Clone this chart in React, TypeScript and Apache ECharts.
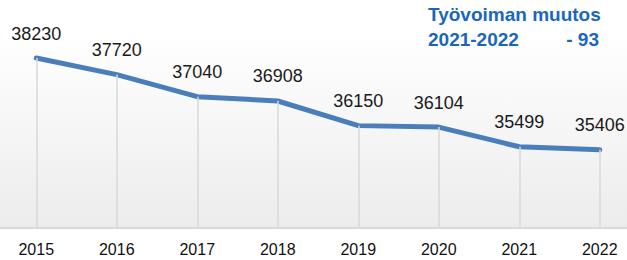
import React, { useEffect, useRef } from "react";
import * as echarts from "echarts";

const years = ["2015", "2016", "2017", "2018", "2019", "2020", "2021", "2022"];
const workforce = [38230, 37720, 37040, 36908, 36150, 36104, 35499, 35406];
const titleLine1 = "Työvoiman muutos";
const titleLine2Left = "2021-2022";
const titleLine2Right = "- 93";
const yMin = 33000;
const yMax = 39000;

export default function App() {
  const ref = useRef<HTMLDivElement>(null);
  useEffect(() => {
    if (!ref.current) return;
    const chart = echarts.init(ref.current, null, { renderer: "svg" });
    const font = "Liberation Sans, Arial, sans-serif";
    const blue = "#1b66bd";
    chart.setOption({
      animation: false,
      backgroundColor: "#ffffff",
      grid: {
        left: 0,
        right: 0,
        top: 33,
        bottom: 32,
        show: true,
        borderWidth: 0,
        backgroundColor: new echarts.graphic.LinearGradient(0, 0, 0, 1, [
          { offset: 0, color: "#ffffff" },
          { offset: 1, color: "#ececec" },
        ]),
      },
      xAxis: {
        type: "category",
        data: years,
        boundaryGap: true,
        axisLine: { show: true, lineStyle: { color: "#d9d9d9", width: 2 } },
        axisTick: { show: false },
        axisLabel: { color: "#111111", fontSize: 16, fontFamily: font, margin: 13 },
        splitLine: { show: false },
      },
      yAxis: {
        type: "value",
        min: yMin,
        max: yMax,
        show: false,
        splitLine: { show: false },
      },
      graphic: [
        {
          type: "text",
          left: 432,
          top: 5,
          style: { text: titleLine1, fill: blue, font: `bold 19px ${font}` },
        },
        {
          type: "text",
          left: 432,
          top: 30,
          style: { text: titleLine2Left, fill: blue, font: `bold 19px ${font}` },
        },
        {
          type: "text",
          right: 41,
          top: 30,
          style: { text: titleLine2Right, fill: blue, font: `bold 19px ${font}` },
        },
      ],
      series: [
        {
          type: "line",
          data: workforce,
          symbol: "none",
          lineStyle: { opacity: 0 },
          z: 1,
          silent: true,
          markLine: {
            silent: true,
            symbol: "none",
            label: { show: false },
            lineStyle: { color: "#d9d9d9", width: 1.5, type: "solid" },
            data: years.map((y, i) => [
              { coord: [y, workforce[i]] },
              { coord: [y, yMin] },
            ]),
          },
        },
        {
          type: "line",
          data: workforce,
          symbol: "circle",
          symbolSize: 1,
          showSymbol: true,
          itemStyle: { color: "#4a7ebb" },
          z: 3,
          lineStyle: { color: "#4a7ebb", width: 5, cap: "round", join: "round" },
          label: {
            show: true,
            position: "top",
            distance: 15,
            color: "#1a1a1a",
            fontSize: 18,
            fontFamily: font,
          },
          labelLayout: { hideOverlap: false },
        },
      ],
    });
    return () => chart.dispose();
  }, []);
  return (
    <div
      ref={ref}
      style={{ position: "fixed", left: -4, top: 0, width: 644, height: 260 }}
    />
  );
}
